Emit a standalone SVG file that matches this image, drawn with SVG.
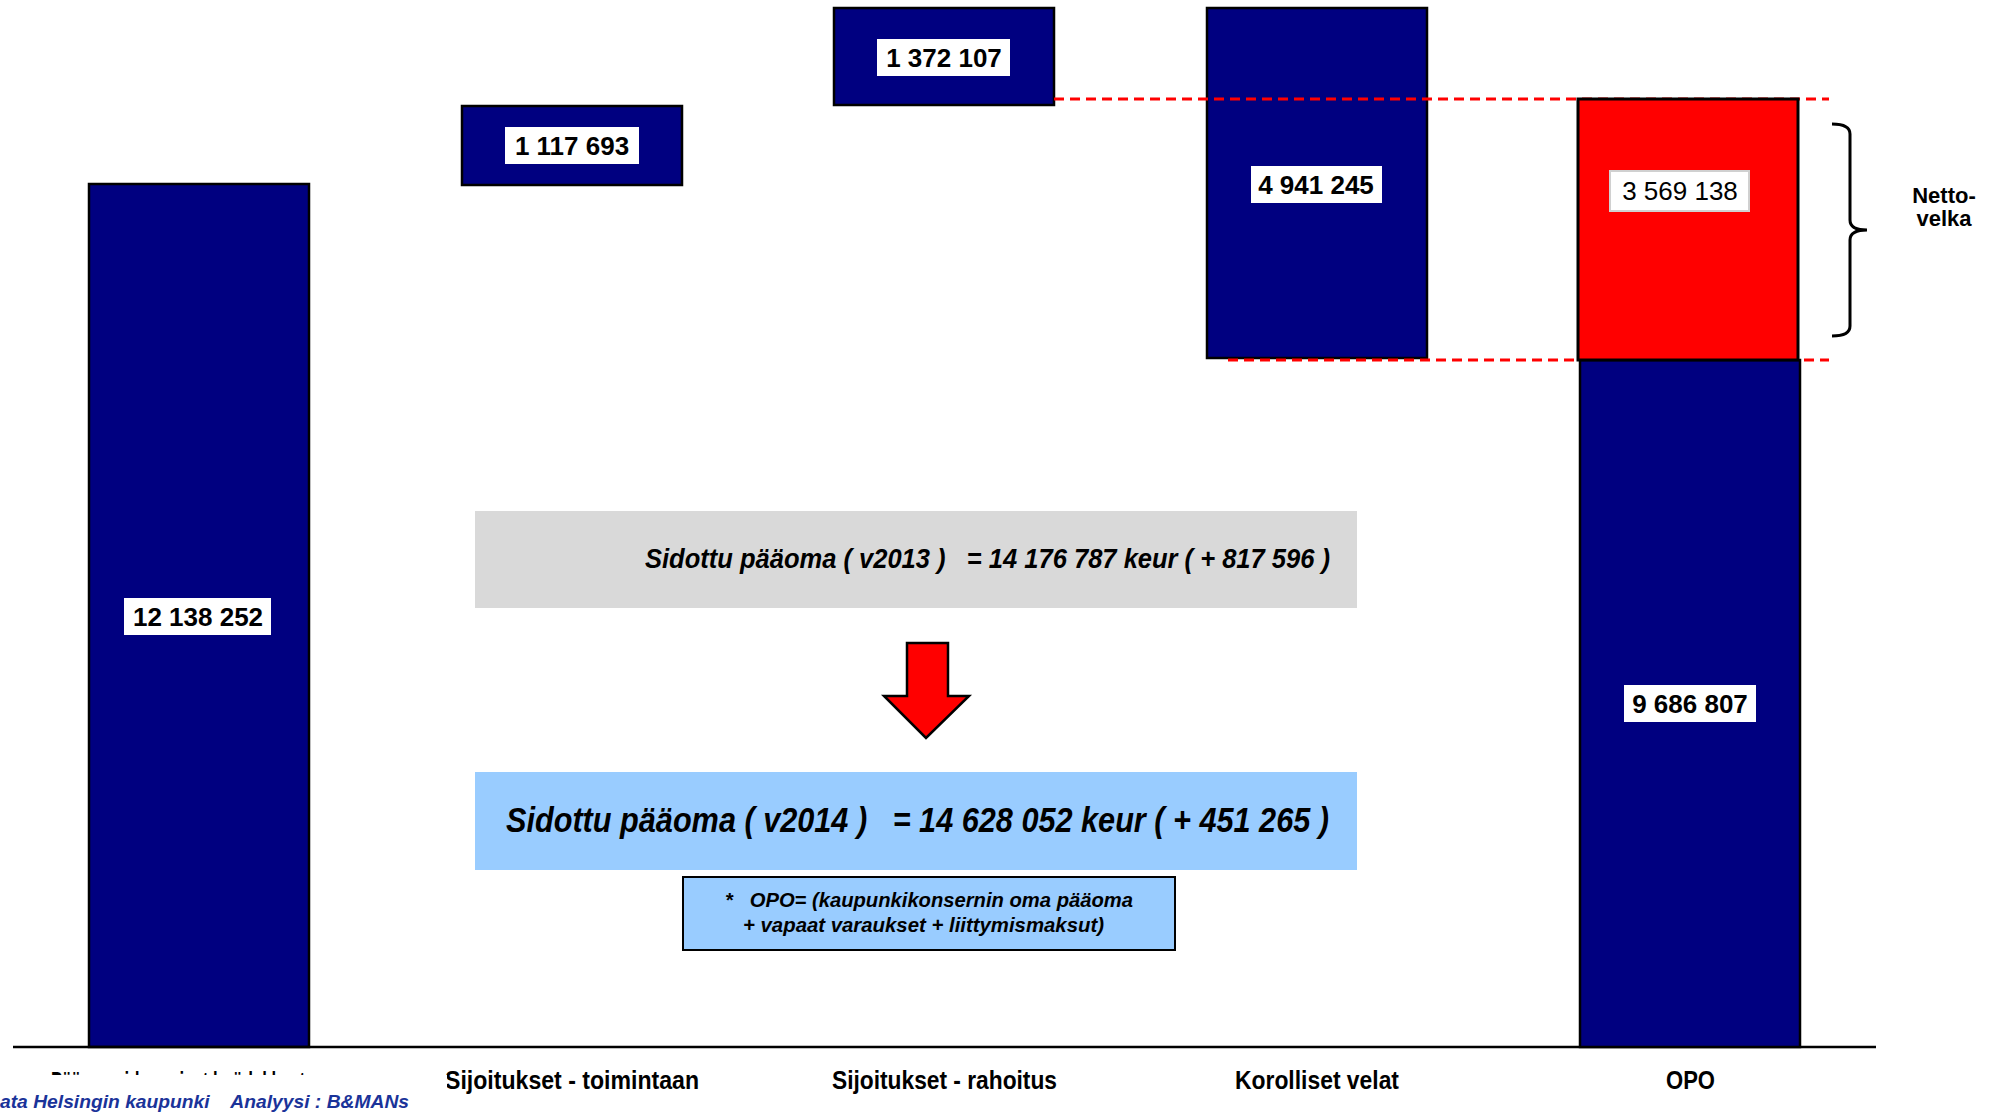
<svg xmlns="http://www.w3.org/2000/svg" width="1992" height="1112" viewBox="0 0 1992 1112">
<defs>
<style>
.bar{fill:#000080;stroke:#000;stroke-width:2.5}
.red{fill:#ff0000;stroke:#000;stroke-width:3}
.lbox{fill:#fff}
.num{font-family:"Liberation Sans",Arial,sans-serif;font-weight:bold;font-size:26px;fill:#000;text-anchor:middle}
.numr{font-family:"Liberation Sans",Arial,sans-serif;font-size:26px;fill:#000;text-anchor:middle}
.axis{font-family:"Liberation Sans Narrow","Liberation Sans",Arial,sans-serif;font-weight:bold;font-size:25px;fill:#000}
.it{font-family:"Liberation Sans Narrow","Liberation Sans",Arial,sans-serif;font-weight:bold;font-style:italic;fill:#000}
.dash{stroke:#ff0000;stroke-width:3;stroke-dasharray:10 6;fill:none}
.nv{font-family:"Liberation Sans",Arial,sans-serif;font-weight:bold;font-size:22px;fill:#000;text-anchor:middle}
</style>
</defs>
<rect width="1992" height="1112" fill="#fff"/>

<g id="bar1">
<rect class="bar" x="89" y="184" width="220" height="863"/>
<rect class="lbox" x="124" y="598" width="147" height="37"/>
<text class="num" x="198" y="626">12 138 252</text>
</g>

<g id="bar2">
<rect class="bar" x="462" y="106" width="220" height="79"/>
<rect class="lbox" x="505" y="127" width="134" height="37"/>
<text class="num" x="572" y="155">1 117 693</text>
</g>

<g id="bar3">
<rect class="bar" x="834" y="8" width="220" height="97"/>
<rect class="lbox" x="877" y="39" width="133" height="37"/>
<text class="num" x="944" y="67">1 372 107</text>
</g>

<g id="bar4">
<rect class="bar" x="1207" y="8" width="220" height="350"/>
<rect class="lbox" x="1251" y="166" width="131" height="37"/>
<text class="num" x="1316" y="194">4 941 245</text>
</g>

<g id="connectors">
<line class="dash" x1="1054" y1="99" x2="1829" y2="99"/>
<line class="dash" x1="1228" y1="360" x2="1829" y2="360"/>
<line x1="13" y1="1047" x2="1876" y2="1047" stroke="#000" stroke-width="2.5"/>
</g>

<g id="bar5">
<rect class="bar" x="1580" y="360" width="220" height="687"/>
<rect class="red" x="1578" y="99" width="220" height="261"/>
<rect x="1610" y="171" width="139" height="40" fill="#fff" stroke="#d0d0d0" stroke-width="2"/>
<text class="numr" x="1680" y="200">3 569 138</text>
<rect class="lbox" x="1624" y="685" width="132" height="37"/>
<text class="num" x="1690" y="713">9 686 807</text>
</g>

<g id="brace">
<path d="M1832,124 Q1850,124 1850,134 L1850,220 Q1850,230 1867,230 Q1850,230 1850,240 L1850,326 Q1850,336 1832,336" fill="none" stroke="#000" stroke-width="3"/>
<text class="nv" x="1944" y="203">Netto-</text>
<text class="nv" x="1944" y="226">velka</text>
</g>

<g id="box2013">
<rect x="475" y="511" width="882" height="97" fill="#d9d9d9"/>
<text class="it" x="645" y="568" font-size="27" textLength="685" lengthAdjust="spacingAndGlyphs" xml:space="preserve">Sidottu pääoma ( v2013 )   = 14 176 787 keur ( + 817 596 )</text>
</g>

<g id="arrow">
<polygon points="907,643 948,643 948,696 969,696 926,738 884,696 907,696" fill="#ff0000" stroke="#000" stroke-width="2.5" stroke-linejoin="miter"/>
</g>

<g id="box2014">
<rect x="475" y="772" width="882" height="98" fill="#99ccff"/>
<text class="it" x="506" y="832" font-size="35" textLength="823" lengthAdjust="spacingAndGlyphs" xml:space="preserve">Sidottu pääoma ( v2014 )   = 14 628 052 keur ( + 451 265 )</text>
</g>

<g id="note">
<rect x="683" y="877" width="492" height="73" fill="#99ccff" stroke="#000" stroke-width="2"/>
<text class="it" x="725" y="907" font-size="20" textLength="408" lengthAdjust="spacingAndGlyphs" xml:space="preserve">*   OPO= (kaupunkikonsernin oma pääoma</text>
<text class="it" x="743" y="932" font-size="20" textLength="361" lengthAdjust="spacingAndGlyphs">+ vapaat varaukset + liittymismaksut)</text>
</g>

<g id="labels">
<text class="axis" x="51" y="1090" textLength="254" lengthAdjust="spacingAndGlyphs">Pääomasidonnaiset hyödykkeet</text>
<text class="axis" x="445" y="1089" textLength="254" lengthAdjust="spacingAndGlyphs">Sijoitukset - toimintaan</text>
<text class="axis" x="832" y="1089" textLength="225" lengthAdjust="spacingAndGlyphs">Sijoitukset - rahoitus</text>
<text class="axis" x="1235" y="1089" textLength="164" lengthAdjust="spacingAndGlyphs">Korolliset velat</text>
<text class="axis" x="1666" y="1089" textLength="49" lengthAdjust="spacingAndGlyphs">OPO</text>
</g>

<g id="source">
<rect x="0" y="1075" width="447" height="37" fill="#fff"/>
<text x="0" y="1108" textLength="409" lengthAdjust="spacingAndGlyphs" style="font-family:'Liberation Sans',Arial,sans-serif;font-weight:bold;font-style:italic;font-size:19px;fill:#1a3399" xml:space="preserve">ata Helsingin kaupunki    Analyysi : B&amp;MANs</text>
</g>
</svg>
